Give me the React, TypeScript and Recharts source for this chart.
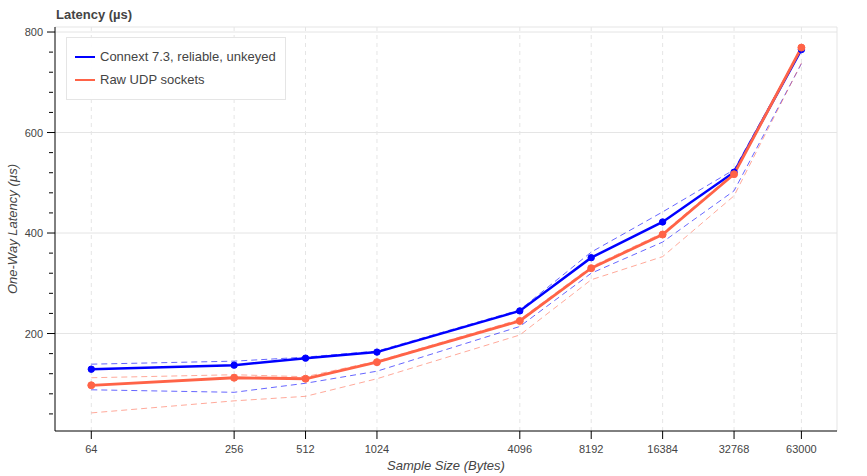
import React from "react";
import { Legend, Line, LineChart, ReferenceLine, XAxis, YAxis } from "recharts";

// sample sizes in bytes (x, log scale)
const sampleSizes = [64, 256, 512, 1024, 4096, 8192, 16384, 32768, 63000];

// one-way latency in µs
const connextAvg = [129, 137, 151, 163, 245, 351, 422, 521, 765];
const connextHigh = [139, 145, 153, 165, 247, 362, 442, 526, 768];
const connextLow = [88, 83, 101, 125, 214, 320, 382, 484, 737];

const udpAvg = [97, 112, 110, 143, 225, 330, 397, 517, 769];
const udpHigh = [112, 118, 114, 145, 228, 333, 400, 520, 771];
const udpLow = [42, 66, 75, 110, 197, 307, 353, 474, 738];

const seriesNames = ["Connext 7.3, reliable, unkeyed", "Raw UDP sockets"];

const yMajorTicks = [200, 400, 600, 800];
const yAllTicks = [40, 80, 120, 160, 200, 240, 280, 320, 360, 400, 440, 480, 520, 560, 600, 640, 680, 720, 760, 800];

const xDomain = [45, 89000];
const yDomain = [6, 810];

const BLUE = "#0000ff";
const RED = "#ff6347";
const TEXT = "#444444";
const GRID = "#e5e5e5";
const FONT = "'Liberation Sans', Arial, Helvetica, sans-serif";

const data = sampleSizes.map((size, i) => ({
  size,
  connextAvg: connextAvg[i],
  connextHigh: connextHigh[i],
  connextLow: connextLow[i],
  udpAvg: udpAvg[i],
  udpHigh: udpHigh[i],
  udpLow: udpLow[i],
}));

function YTick({ x, y, payload }: any) {
  const major = yMajorTicks.includes(payload.value);
  return (
    <g>
      <line x1={x - (major ? 6 : 4)} x2={x + (major ? 2 : 0)} y1={y} y2={y} stroke="#000" />
      {major && (
        <text x={x - 10} y={y} dy={4} textAnchor="end" fontSize={11} fill={TEXT} fontFamily={FONT}>
          {payload.value}
        </text>
      )}
    </g>
  );
}

function XTick({ x, y, payload }: any) {
  return (
    <g>
      <line x1={x} x2={x} y1={y - 2} y2={y + 6} stroke="#000" />
      <text x={x} y={y + 20} textAnchor="middle" fontSize={11} fill={TEXT} fontFamily={FONT}>
        {payload.value}
      </text>
    </g>
  );
}

function LegendBox({ payload }: any) {
  const items = (payload || []).filter((p: any) => seriesNames.includes(p.value));
  return (
    <div
      style={{
        width: 218,
        height: 54,
        border: `1px solid ${GRID}`,
        background: "rgba(255,255,255,0.95)",
        fontFamily: FONT,
        fontSize: 13,
        color: TEXT,
        paddingTop: 7,
        boxSizing: "content-box",
      }}
    >
      {items.map((p: any) => (
        <div key={p.value} style={{ display: "flex", alignItems: "center", height: 23, paddingLeft: 8 }}>
          <span style={{ display: "inline-block", width: 20, height: 2, background: p.color, marginRight: 5 }} />
          <span>{p.value}</span>
        </div>
      ))}
    </div>
  );
}

export default function App() {
  return (
    <div style={{ position: "absolute", left: 0, top: 0, width: 867, height: 476, background: "#fff", fontFamily: FONT }}>
      <div style={{ position: "absolute", left: 56, top: 7, fontSize: 13, fontWeight: "bold", color: TEXT }}>
        Latency (µs)
      </div>
      <LineChart width={867} height={476} data={data} margin={{ top: 27, right: 30, bottom: 0, left: 0 }}>
        {yMajorTicks.map((v) => (
          <ReferenceLine key={`h${v}`} y={v} stroke={GRID} strokeWidth={1} />
        ))}
        {sampleSizes.map((s) => (
          <ReferenceLine key={`v${s}`} x={s} stroke={GRID} strokeWidth={1} strokeDasharray="4 4" />
        ))}
        <ReferenceLine y={yDomain[1]} stroke={GRID} strokeWidth={1} />
        <ReferenceLine x={xDomain[1]} stroke={GRID} strokeWidth={1} />
        <XAxis
          dataKey="size"
          type="number"
          scale="log"
          domain={xDomain}
          allowDataOverflow
          ticks={sampleSizes}
          interval={0}
          height={45}
          tickSize={0}
          tickLine={false}
          tick={<XTick />}
          axisLine={{ stroke: "#000" }}
          label={{
            value: "Sample Size (Bytes)",
            position: "insideBottom",
            offset: 6,
            style: { fontSize: 13, fontStyle: "italic", fill: TEXT, fontFamily: FONT },
          }}
        />
        <YAxis
          type="number"
          domain={yDomain}
          allowDataOverflow
          ticks={yAllTicks}
          interval={0}
          width={55}
          tickSize={0}
          tickLine={false}
          tick={<YTick />}
          axisLine={{ stroke: "#000" }}
          label={{
            value: "One-Way Latency (µs)",
            angle: -90,
            position: "insideLeft",
            offset: 12,
            style: { textAnchor: "middle", fontSize: 13, fontStyle: "italic", fill: TEXT, fontFamily: FONT },
          }}
        />
        <Line dataKey="connextHigh" stroke={BLUE} strokeWidth={1} strokeOpacity={0.6} strokeDasharray="6 4" dot={false} activeDot={false} legendType="none" isAnimationActive={false} />
        <Line dataKey="connextLow" stroke={BLUE} strokeWidth={1} strokeOpacity={0.6} strokeDasharray="6 4" dot={false} activeDot={false} legendType="none" isAnimationActive={false} />
        <Line dataKey="udpHigh" stroke={RED} strokeWidth={1} strokeOpacity={0.55} strokeDasharray="6 4" dot={false} activeDot={false} legendType="none" isAnimationActive={false} />
        <Line dataKey="udpLow" stroke={RED} strokeWidth={1} strokeOpacity={0.55} strokeDasharray="6 4" dot={false} activeDot={false} legendType="none" isAnimationActive={false} />
        <Line
          dataKey="connextAvg"
          name={seriesNames[0]}
          stroke={BLUE}
          strokeWidth={2.5}
          dot={{ r: 3.2, fill: BLUE, stroke: BLUE, strokeWidth: 1 }}
          activeDot={false}
          isAnimationActive={false}
        />
        <Line
          dataKey="udpAvg"
          name={seriesNames[1]}
          stroke={RED}
          strokeWidth={2.8}
          dot={{ r: 3.5, fill: RED, stroke: RED, strokeWidth: 1 }}
          activeDot={false}
          isAnimationActive={false}
        />
        <Legend
          layout="vertical"
          verticalAlign="middle"
          align="center"
          wrapperStyle={{ left: 66, top: 37, width: 220, height: 63 }}
          content={<LegendBox />}
        />
      </LineChart>
    </div>
  );
}
